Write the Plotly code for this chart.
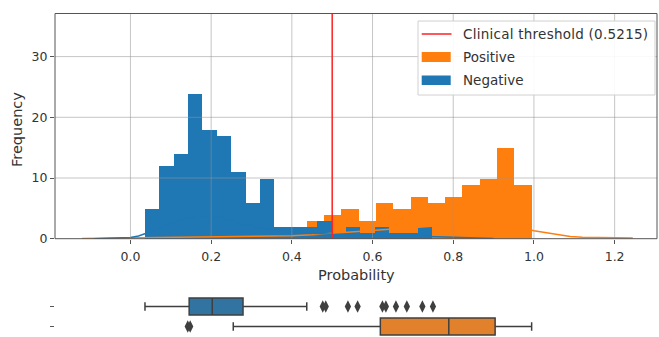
import numpy as np
import plotly.graph_objects as go

# ---------------- data ----------------
neg_bin_start = 0.036
neg_bin_width = 0.0356
neg_counts = [5, 12, 14, 24, 18, 17, 11, 6, 10, 2, 2, 2, 3, 1, 2, 1, 2, 1, 1, 2]

pos_bin_start = 0.4367
pos_bin_width = 0.0429
pos_counts = [3, 4, 5, 3, 6, 5, 7, 6, 7, 9, 10, 15, 9]

neg_kde_x = [-0.09, -0.06, -0.03, 0.0, 0.02, 0.036, 0.06, 0.1, 0.14, 0.18, 0.22, 0.26, 0.3,
             0.34, 0.38, 0.42, 0.46, 0.5, 0.54, 0.58, 0.62, 0.66, 0.7, 0.74, 0.78, 0.82, 0.86, 0.9]
neg_kde_y = [0.0, 0.03, 0.08, 0.2, 0.45, 0.8, 1.4, 2.5, 3.4, 3.8, 3.5, 2.8, 2.1,
             1.6, 1.2, 1.0, 0.85, 0.75, 0.7, 0.65, 0.6, 0.55, 0.5, 0.4, 0.3, 0.2, 0.1, 0.03]

pos_kde_x = [-0.12, -0.06, 0.0, 0.1, 0.2, 0.3, 0.4, 0.45, 0.5, 0.6, 0.7, 0.8, 0.9, 0.95,
             1.0, 1.03, 1.06, 1.09, 1.12, 1.16, 1.2, 1.245]
pos_kde_y = [0.05, 0.1, 0.15, 0.25, 0.3, 0.38, 0.5, 0.65, 0.9, 1.4, 1.9, 2.3, 2.5, 2.1,
             1.3, 0.95, 0.65, 0.35, 0.22, 0.15, 0.12, 0.1]

threshold_label = "Clinical threshold (0.5215)"
threshold_x = 0.5

x_ticks = [0.0, 0.2, 0.4, 0.6, 0.8, 1.0, 1.2]
x_tick_labels = ["0.0", "0.2", "0.4", "0.6", "0.8", "1.0", "1.2"]
y_ticks = [0, 10, 20, 30]
y_tick_labels = ["0", "10", "20", "30"]

# box plot statistics (Negative, Positive)
box_names = ["Negative", "Positive"]
box_lowerfence = [0.036, 0.2548]
box_q1 = [0.1455, 0.6193]
box_median = [0.2027, 0.789]
box_q3 = [0.279, 0.9038]
box_upperfence = [0.437, 0.9943]
neg_outliers = [0.4766, 0.484, 0.539, 0.563, 0.6245, 0.633, 0.658, 0.685, 0.7235, 0.7497]
pos_outliers = [0.142, 0.148]

# ---------------- styling ----------------
W, H = 659, 337
BLUE = "#1f77b4"
ORANGE = "#ff7f0e"
BOX_BLUE = "#3274a1"
BOX_ORANGE = "#e1812c"
BOX_EDGE = "#3f3f3f"
FONT = "DejaVu Sans"
FS_LABEL = 14.5
FS_TICK = 12.5
FS_LEG = 13.5
TXT = "#333333"

def px_x(p):
    return p / W

def px_y(p):
    return 1 - p / H

fig = go.Figure()

neg_edges = np.linspace(neg_bin_start, neg_bin_start + neg_bin_width * len(neg_counts), len(neg_counts) + 1)
pos_edges = np.linspace(pos_bin_start, pos_bin_start + pos_bin_width * len(pos_counts), len(pos_counts) + 1)

fig.add_trace(go.Bar(x=pos_edges[:-1], y=pos_counts, width=pos_bin_width, offset=0,
                     marker=dict(color=ORANGE, line=dict(width=0)), name="Positive",
                     xaxis="x", yaxis="y", showlegend=False))
fig.add_trace(go.Bar(x=neg_edges[:-1], y=neg_counts, width=neg_bin_width, offset=0,
                     marker=dict(color=BLUE, line=dict(width=0)), name="Negative",
                     xaxis="x", yaxis="y", showlegend=False))
fig.add_trace(go.Scatter(x=pos_kde_x, y=pos_kde_y, mode="lines", line=dict(color=ORANGE, width=1.5),
                         xaxis="x", yaxis="y", showlegend=False, hoverinfo="skip"))
fig.add_trace(go.Scatter(x=neg_kde_x, y=neg_kde_y, mode="lines", line=dict(color=BLUE, width=1.5),
                         xaxis="x", yaxis="y", showlegend=False, hoverinfo="skip"))

# box plots
for i, (name, col) in enumerate(zip(box_names, [BOX_BLUE, BOX_ORANGE])):
    fig.add_trace(go.Box(
        y=[i], q1=[box_q1[i]], median=[box_median[i]], q3=[box_q3[i]],
        lowerfence=[box_lowerfence[i]], upperfence=[box_upperfence[i]],
        orientation="h", width=0.85, whiskerwidth=0.5, boxpoints=False,
        fillcolor=col, line=dict(color=BOX_EDGE, width=1.5), name=name,
        xaxis="x2", yaxis="y2", showlegend=False))

fig.add_trace(go.Scatter(x=neg_outliers, y=[0] * len(neg_outliers), mode="markers",
                         marker=dict(symbol="diamond-tall", size=9, color=BOX_EDGE),
                         xaxis="x2", yaxis="y2", showlegend=False))
fig.add_trace(go.Scatter(x=pos_outliers, y=[1] * len(pos_outliers), mode="markers",
                         marker=dict(symbol="diamond-tall", size=9, color=BOX_EDGE),
                         xaxis="x2", yaxis="y2", showlegend=False))

x_dom = [px_x(55), px_x(657)]
x_range = [-0.187, 1.305]
y_range = [0, 37.1]

shapes = []
for t in x_ticks:
    shapes.append(dict(type="line", xref="x", yref="y", x0=t, x1=t, y0=y_range[0], y1=y_range[1],
                       line=dict(color="rgba(150,150,150,0.55)", width=1), layer="above"))
for t in y_ticks[1:]:
    shapes.append(dict(type="line", xref="x", yref="y", x0=x_range[0], x1=x_range[1], y0=t, y1=t,
                       line=dict(color="rgba(150,150,150,0.55)", width=1), layer="above"))
shapes.append(dict(type="line", xref="x", yref="y", x0=threshold_x, x1=threshold_x,
                   y0=y_range[0], y1=y_range[1], line=dict(color="#ff2020", width=1.5), layer="above"))
shapes.append(dict(type="rect", xref="paper", yref="paper", x0=x_dom[0], x1=x_dom[1],
                   y0=px_y(238.7), y1=px_y(13.5), line=dict(color="#555555", width=1), layer="above"))
shapes.append(dict(type="rect", xref="paper", yref="paper", x0=px_x(418), x1=px_x(655),
                   y0=px_y(95), y1=px_y(21), line=dict(color="#d0d0d0", width=1),
                   fillcolor="rgba(255,255,255,0.9)", layer="above"))
shapes.append(dict(type="line", xref="paper", yref="paper", x0=px_x(421.7), x1=px_x(451.5),
                   y0=px_y(34), y1=px_y(34), line=dict(color="#ff2020", width=1.5), layer="above"))
shapes.append(dict(type="rect", xref="paper", yref="paper", x0=px_x(421.7), x1=px_x(450.7),
                   y0=px_y(62), y1=px_y(52), line=dict(width=0), fillcolor=ORANGE, layer="above"))
shapes.append(dict(type="rect", xref="paper", yref="paper", x0=px_x(421.7), x1=px_x(450.7),
                   y0=px_y(85), y1=px_y(75.5), line=dict(width=0), fillcolor=BLUE, layer="above"))

annotations = []
leg_items = [('<span style="letter-spacing:0.25px">' + threshold_label + '</span>', 34),
             ("Positive", 57.3), ("Negative", 80.5)]
for txt, yy in leg_items:
    annotations.append(dict(text=txt, xref="paper", yref="paper", x=px_x(461), y=px_y(yy),
                            xanchor="left", yanchor="middle", showarrow=False,
                            font=dict(family=FONT, size=FS_LEG, color=TXT)))
annotations.append(dict(text="Probability", xref="paper", yref="paper", x=px_x(357), y=px_y(275),
                        xanchor="center", yanchor="middle", showarrow=False,
                        font=dict(family=FONT, size=FS_LABEL, color=TXT)))
annotations.append(dict(text="Frequency", xref="paper", yref="paper", x=px_x(17), y=px_y(130),
                        xanchor="center", yanchor="middle", showarrow=False, textangle=-90,
                        font=dict(family=FONT, size=FS_LABEL, color=TXT)))

fig.update_layout(
    width=W, height=H, autosize=False,
    margin=dict(l=0, r=0, t=0, b=0, pad=0),
    paper_bgcolor="white", plot_bgcolor="rgba(0,0,0,0)",
    barmode="overlay", bargap=0,
    showlegend=False,
    font=dict(family=FONT, size=FS_TICK, color=TXT),
    xaxis=dict(domain=x_dom, range=x_range, tickvals=x_ticks, ticktext=x_tick_labels,
               showgrid=False, zeroline=False, ticks="outside", ticklen=4, tickcolor="#555555",
               showline=False, anchor="y", ticklabelstandoff=2, automargin=False,
               tickfont=dict(family=FONT, size=FS_TICK, color=TXT)),
    yaxis=dict(domain=[px_y(238.7), px_y(13.5)], range=y_range, tickvals=y_ticks, ticktext=y_tick_labels,
               showgrid=False, zeroline=False, ticks="outside", ticklen=4, tickcolor="#555555",
               showline=False, anchor="x", automargin=False,
               tickfont=dict(family=FONT, size=FS_TICK, color=TXT)),
    xaxis2=dict(domain=x_dom, range=x_range, showgrid=False, zeroline=False, showline=False,
                showticklabels=False, ticks="", anchor="y2", automargin=False),
    yaxis2=dict(domain=[px_y(336.5), px_y(296.5)], range=[1.5, -0.5], tickvals=[0, 1],
                showticklabels=False, ticks="outside", ticklen=4, tickcolor="#555555",
                showgrid=False, zeroline=False, showline=False, anchor="x2", automargin=False),
    shapes=shapes,
    annotations=annotations,
)

fig.write_html("out.html", config={"displayModeBar": False, "responsive": False},
               post_script="document.body.style.margin='0';document.body.style.overflow='hidden';")
